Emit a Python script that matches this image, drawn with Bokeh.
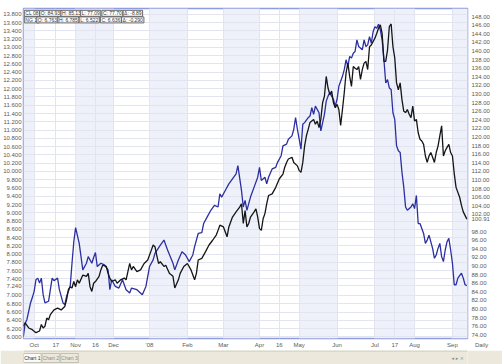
from bokeh.plotting import figure
from bokeh.models import Range1d, LinearAxis, FixedTicker, PrintfTickFormatter, Label, BoxAnnotation
from bokeh.layouts import column
from bokeh.embed import file_html
from bokeh.resources import INLINE
from bokeh.core.properties import value

# ---------------- data (trading-day index, 0 = 1 Oct 2007) ----------------
ng_idx = [-6, -5, -4, -2, -1, 0, 1, 2, 3, 4, 5, 6, 8, 9, 10, 11, 13, 14, 16, 17, 18, 20, 21, 22, 23,
          25, 27, 29, 30, 32, 33, 34, 35, 37, 39, 41, 42, 43, 45, 47, 49, 51, 53, 54, 57, 60, 62, 64,
          66, 67, 70, 72, 74, 77, 78, 80, 82, 84, 86, 88, 89, 91, 93, 94, 96, 98, 100, 102, 103, 104,
          106, 108, 110, 112, 113, 115, 116, 117, 118, 120, 122, 124, 125, 126, 128, 129, 130, 132,
          134, 135, 137, 138, 140, 141, 143, 144, 145, 146, 147, 148, 149, 150, 152, 153, 154, 155,
          156, 158, 159, 161, 162, 163, 164, 166, 167, 168, 169, 171, 172, 173, 174, 175, 176, 177,
          178, 179, 180, 182, 183, 184, 185, 186, 187, 188, 189, 190, 191, 192, 193, 194, 195, 196,
          197, 198, 199, 200, 201, 202, 203, 204, 205, 206, 207, 209, 210, 211, 212, 213, 214, 216,
          217, 218, 219, 221, 222, 223, 224, 225, 226, 227, 228, 229, 230, 231, 232, 233, 234, 235,
          237, 238, 239, 240]
ng_val = [6.00, 6.32, 6.42, 6.82, 6.95, 7.10, 7.38, 7.42, 7.30, 7.42, 7.02, 6.82, 6.86, 7.14, 7.42,
          7.36, 7.42, 7.14, 6.82, 6.78, 6.98, 7.22, 7.78, 8.30, 8.64,
          8.26, 7.62, 7.78, 7.94, 7.78, 7.92, 8.04, 7.70, 7.78, 7.74, 7.62, 7.14, 7.38, 7.22, 7.18,
          7.38, 7.14, 7.06, 7.18, 7.14, 7.02, 7.22, 7.70,
          7.86, 8.02, 8.22, 8.34, 8.10, 7.78, 7.62, 7.86, 8.06, 7.98, 7.82, 7.98, 8.18, 8.50, 8.52,
          8.74, 8.90, 9.06, 9.18, 9.14, 9.46, 9.38,
          9.54, 9.70, 9.82, 9.94, 10.14, 9.54, 9.14, 9.30, 9.06, 9.38, 9.62, 9.86, 10.10, 9.78, 9.86,
          9.70, 9.86, 10.06,
          10.10, 10.22, 10.38, 10.62, 10.66, 10.78, 10.86, 11.02, 11.30, 11.02, 10.78, 10.54, 11.14,
          11.18, 11.30, 11.34, 11.54, 11.38,
          11.58, 11.42, 10.98, 11.38, 11.70, 11.82, 11.90, 11.74, 11.58, 11.74, 12.06, 12.30, 12.46,
          12.70, 12.54, 12.78, 12.74, 12.86,
          12.90, 13.18, 13.02, 12.94, 13.18, 13.02, 13.06, 13.26, 13.10, 13.38, 13.50, 13.46, 13.56,
          13.42, 13.18, 12.70, 12.14, 12.22,
          12.02, 11.98, 11.42, 11.26, 10.62, 10.50, 10.46, 9.98, 9.62, 9.14, 9.06, 9.14, 9.22, 9.10,
          9.42, 8.74, 8.74, 8.50,
          8.26, 8.34, 8.46, 8.14, 7.90, 7.98, 8.14, 8.26, 7.94, 7.82, 8.10, 8.30, 8.38, 8.10, 7.78,
          7.26, 7.26, 7.42,
          7.54, 7.42, 7.26, 7.24]

cl_idx = [-6, -5, -3, -1, 1, 3, 4, 5, 6, 7, 8, 9, 11, 13, 15, 17, 18, 19, 20, 21, 22, 23, 24, 25, 27,
          29, 30, 31, 32, 33, 34, 36, 37, 38, 40, 41, 42, 43, 45, 46, 48, 50, 51, 53, 54, 55, 57, 59,
          61, 63, 65, 66, 67, 68, 69, 70, 72, 73, 75, 77, 78, 80, 81, 83, 85, 87, 89, 90, 91, 93, 95,
          97, 99, 101, 102, 103, 105, 107, 108, 110, 112, 114, 115, 116, 117, 118, 119, 120, 122, 123,
          124, 125, 126, 127, 128, 129, 130, 132, 134, 136, 138, 139, 140, 141, 143, 144, 146, 147,
          148, 149, 150, 151, 152, 153, 155, 156, 157, 158, 159, 160, 161, 162, 163, 164, 165, 166,
          167, 168, 169, 170, 171, 172, 173, 174, 175, 176, 177, 178, 179, 180, 181, 182, 183, 184,
          185, 186, 187, 189, 190, 191, 192, 193, 194, 195, 196, 197, 198, 199, 200, 201, 202, 203,
          204, 205, 206, 207, 208, 209, 210, 211, 212, 213, 214, 215, 216, 217, 218, 219, 220, 221,
          222, 223, 224, 225, 226, 227, 228, 229, 230, 231, 232, 233, 234, 236, 237, 238, 240]
cl_val = [76.0, 76.8, 75.6, 75.2, 74.5, 74.9, 76.4, 75.6, 76.0, 77.9, 77.5, 78.7, 79.8, 80.2, 79.8,
          80.6, 82.2, 84.5, 85.2, 84.9, 86.4, 85.2, 86.8, 86.0, 87.9,
          87.6, 88.3, 85.2, 84.1, 86.0, 86.4, 87.6, 89.1, 90.2, 89.9, 88.3, 87.2, 86.4, 86.8, 86.0,
          86.8, 87.2, 86.8, 90.6, 89.1, 89.9, 88.7, 89.1,
          90.6, 91.4, 93.7, 94.9, 94.5, 92.5, 90.6, 91.0, 89.9, 90.2, 88.3, 87.6, 84.9, 86.8, 88.3,
          89.9, 90.6, 89.1, 86.8, 88.3, 91.4, 91.8, 93.3,
          94.9, 96.0, 97.2, 98.3, 99.5, 99.1, 96.8, 99.1, 101.4, 102.6, 103.7, 104.5, 99.9, 102.9,
          99.1, 99.9, 101.4, 102.6, 103.3,
          101.4, 98.7, 98.3, 101.0, 102.2, 104.5, 106.4, 106.8, 108.3, 110.3, 111.4, 113.0, 114.1,
          114.9, 115.3, 114.1, 113.3, 112.2,
          111.8, 114.1, 117.9, 120.3, 121.8, 123.4, 124.1, 123.0, 123.7, 122.2, 124.1, 128.0, 129.5,
          134.1, 131.4, 129.9, 130.7, 128.0,
          126.8, 127.6, 126.4, 122.7, 126.4, 130.3, 134.9, 137.2, 134.1, 131.8, 136.4, 136.0, 135.7,
          136.4, 133.4, 135.7, 137.2, 137.6,
          135.7, 141.0, 141.4, 143.0, 144.1, 145.3, 146.1, 144.1, 137.6, 137.6, 140.3, 145.7, 146.3,
          141.0, 138.4, 132.6, 131.0, 132.6,
          128.7, 126.0, 125.7, 126.4, 125.3, 124.5, 127.2, 123.7, 124.1, 121.0, 119.5, 119.1, 118.3,
          115.6, 114.1, 115.6, 116.4, 115.3,
          114.1, 116.4, 117.9, 120.3, 122.6, 115.6, 116.8, 117.6, 118.3, 116.4, 115.6, 111.5, 108.3,
          106.0, 104.1, 102.6, 100.91]

month_idx = [0, 23, 44, 64, 85, 105, 125, 147, 168, 189, 211, 232]
xtick_idx = [0, 12, 23, 34, 44, 64, 85, 105, 125, 136, 147, 168, 189, 200, 211, 232]
xtick_lbl = ["Oct", "17", "Nov", "16", "Dec", "'08", "Feb", "Mar", "Apr", "16", "May", "Jun",
             "Jul", "17", "Aug", "Sep"]
ng_last = 7.24
cl_last = 100.91
ng_ticks = sorted([round(6.0 + 0.2 * i, 1) for i in range(40) if i != 6] + [ng_last])
cl_ticks = sorted([74 + 2 * i for i in range(38) if i != 13] + [cl_last])
legend_rows = [["CL 08", "O: 84.93", "H: 85.13", "L: 77.09", "C: 77.70", "\u0394: -8.89"],
               ["NG 1!", "O: 6.763", "H: 6.785", "L: 6.522", "C: 6.636", "\u0394: -0.290"]]
tab_names = ["Chart 1", "Chart 2", "Chart 3"]
period_text = "Daily"

# ---------------- layout constants ----------------
FONT = "Liberation Sans"
X0, X1 = -5.9, 240.35
Y0, Y1 = 5.96, 13.94
R0, R1 = 73.15, 149.9
GRID = "#E2E5F0"
LBL = "#5A5A5A"
W = 502

p = figure(width=W, height=350, output_backend="svg", toolbar_location=None,
           x_range=Range1d(X0, X1), y_range=Range1d(Y0, Y1),
           min_border_left=23, min_border_right=35, min_border_top=8, min_border_bottom=9)
p.extra_y_ranges = {"cl": Range1d(R0, R1)}
p.outline_line_color = "#8F9BDF"
p.outline_line_width = 1.5
p.background_fill_color = "white"
p.border_fill_color = "white"

# x axis (last tick at right edge carries the period name, pushed right with nbsp)
period_tick = round(X1 - 0.05, 2)
xa = p.xaxis[0]
xa.ticker = FixedTicker(ticks=xtick_idx + [period_tick])
xa.major_label_overrides = dict(zip(xtick_idx + [period_tick],
                                    xtick_lbl + ["\u00a0" * 17 + period_text]))
# left axis (natural gas)
ya = p.yaxis[0]
ya.ticker = FixedTicker(ticks=ng_ticks)
ya.formatter = PrintfTickFormatter(format="%.3f")
# right axis (crude)
ra = LinearAxis(y_range_name="cl", ticker=FixedTicker(ticks=cl_ticks),
                formatter=PrintfTickFormatter(format="%.2f"))
p.add_layout(ra, "right")

for ax in (xa, ya, ra):
    ax.axis_line_color = None
    ax.major_tick_line_color = None
    ax.minor_tick_line_color = None
    ax.major_tick_out = 0
    ax.major_tick_in = 0
    ax.minor_tick_out = 0
    ax.minor_tick_in = 0
    ax.major_label_text_font = FONT
    ax.major_label_text_font_size = "6px"
    ax.major_label_text_color = LBL
    ax.major_label_standoff = 2
xa.major_label_standoff = 3
ra.major_label_standoff = 4

p.xgrid.grid_line_color = GRID
p.ygrid.grid_line_color = GRID

# alternate month shading
edges = [X0] + month_idx + [X1]
for i in range(0, len(edges) - 1, 2):
    p.add_layout(BoxAnnotation(left=edges[i], right=edges[i + 1], fill_color="#EEF1FA",
                               fill_alpha=1, line_color=None, level="image"))

p.line(ng_idx, ng_val, line_color="#2C2F9F", line_width=1.3)
p.line(cl_idx, cl_val, y_range_name="cl", line_color="#151515", line_width=1.3)


# info legend (two rows of boxed cells)
def text_w(s, size=5.0):
    narrow = set(" .:!1")
    return sum((0.28 if ch in narrow else 0.58) for ch in s) * size + 2.5


for r, row in enumerate(legend_rows):
    off = 0.8
    for txt in row:
        p.add_layout(Label(x=X0, y=Y1, x_offset=off, y_offset=-(1.8 + 6.6 * r), text=txt,
                           text_align="left", text_baseline="top", text_font=FONT,
                           text_font_size="5px", text_color="#333",
                           background_fill_color="white", border_line_color="#666",
                           padding=(1, 0)))
        off += text_w(txt)

# ---------------- bottom tab strip ----------------
t = figure(width=W, height=14, output_backend="svg", toolbar_location=None,
           x_range=Range1d(0, W), y_range=Range1d(0, 14), x_axis_type=None, y_axis_type=None,
           min_border=0, min_border_left=0, min_border_right=0, min_border_top=0,
           min_border_bottom=0)
t.background_fill_color = "#ECE9DC"
t.border_fill_color = "#ECE9DC"
t.outline_line_color = None
t.xgrid.visible = False
t.ygrid.visible = False
tab_w = 21
tl = [i * tab_w for i in range(len(tab_names))]
t.quad(left=tl, right=[v + tab_w - 1 for v in tl], bottom=2, top=11,
       fill_color=["#FBFAF6", "#ECE9DC", "#ECE9DC"], line_color="#B9B6AA", line_width=0.8)
t.text(x=[v + tab_w / 2 - 0.5 for v in tl], y=6.5, text=tab_names, text_align="center",
       text_baseline="middle", text_font=value(FONT), text_font_size="5px",
       text_color=["#333", "#8A8A8A", "#8A8A8A"])
t.segment(x0=0, y0=13.5, x1=W, y1=13.5, line_color="#C9C6BA", line_width=1)
t.text(x=[491], y=6.5, text=["\u25c2 \u25b8 \u00d7"], text_align="center", text_baseline="middle",
       text_font=value("DejaVu Sans"), text_font_size="5px", text_color="#8A8A8A")

layout = column(p, t, spacing=0)
open("out.html", "w").write(file_html(layout, INLINE))
